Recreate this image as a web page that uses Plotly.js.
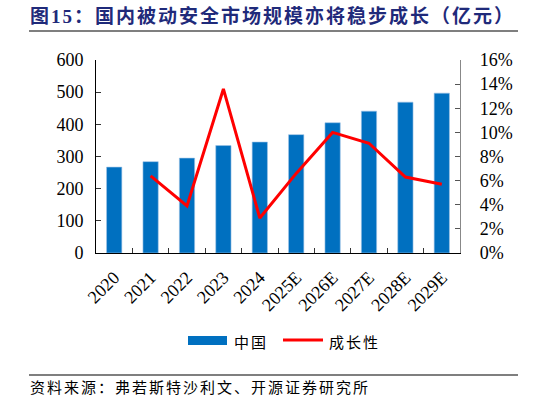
<!DOCTYPE html>
<html>
<head>
<meta charset="utf-8">
<script src="https://cdn.plot.ly/plotly-3.0.1.min.js"></script>
<style>
html,body{margin:0;padding:0;background:#fff;}
#chart{width:546px;height:405px;}
.annotation-text{letter-spacing:2px;}
</style>
</head>
<body>
<div id="chart"></div>
<script>
const categories = ['2020','2021','2022','2023','2024','2025E','2026E','2027E','2028E','2029E'];
const marketSize = [267, 284, 295, 334, 345, 368, 405, 441, 469, 497];
const growthRate = [null, 0.064, 0.039, 0.136, 0.029, 0.066, 0.100, 0.091, 0.063, 0.057];
const leftTicks = [0, 100, 200, 300, 400, 500, 600];
const rightTicks = [0, 0.02, 0.04, 0.06, 0.08, 0.10, 0.12, 0.14, 0.16];
const rightTickLabels = ['0%','2%','4%','6%','8%','10%','12%','14%','16%'];

const serif = "'Liberation Serif', 'Times New Roman', serif";
const cjk = "'Liberation Serif', 'Noto Sans CJK SC', sans-serif";
const cjkSans = "'Noto Sans CJK SC', sans-serif";

const W = 546, H = 405, L = 96, R = 86, T = 60, B = 152;
const pw = W - L - R, ph = H - T - B;
const px = x => (x - L) / pw;
const py = y => (H - B - y) / ph;

const traces = [
  {
    type: 'bar', x: categories, y: marketSize, name: '中国',
    marker: {color: '#0070C0', line: {color: '#9DC3E6', width: 0.6}},
    width: 0.42, showlegend: false, hoverinfo: 'skip'
  },
  {
    type: 'scatter', mode: 'lines', x: categories, y: growthRate, name: '成长性',
    yaxis: 'y2', line: {color: '#FF0000', width: 3}, connectgaps: false,
    showlegend: false, hoverinfo: 'skip'
  }
];

const layout = {
  width: W, height: H,
  margin: {l: L, r: R, t: T, b: B},
  paper_bgcolor: '#fff', plot_bgcolor: '#fff',
  showlegend: false,
  xaxis: {
    type: 'category', showgrid: false, zeroline: false,
    showline: true, linecolor: '#000', linewidth: 1,
    ticks: 'inside', ticklen: 5, tickcolor: '#333', tickson: 'boundaries',
    tickangle: -45, tickfont: {family: serif, size: 18, color: '#000'},
    ticklabelstandoff: 6,
    range: [-0.5, 9.5]
  },
  yaxis: {
    range: [0, 600], tickvals: leftTicks, ticktext: leftTicks.map(String),
    showgrid: false, zeroline: false, showline: true, linecolor: '#000', linewidth: 1,
    ticks: 'inside', ticklen: 5, tickcolor: '#333',
    tickfont: {family: serif, size: 18, color: '#000'}, ticklabelstandoff: 8
  },
  yaxis2: {
    overlaying: 'y', side: 'right', range: [0, 0.16],
    tickvals: rightTicks, ticktext: rightTickLabels,
    showgrid: false, zeroline: false, showline: true, linecolor: '#888', linewidth: 1.2,
    ticks: 'inside', ticklen: 5, tickcolor: '#555',
    tickfont: {family: serif, size: 18, color: '#000'}, ticklabelstandoff: 15
  },
  shapes: [
    {type: 'line', xref: 'paper', yref: 'paper', x0: px(29), x1: px(518), y0: py(31), y1: py(31), line: {color: '#000', width: 1.2}},
    {type: 'line', xref: 'paper', yref: 'paper', x0: px(29), x1: px(518), y0: py(375), y1: py(375), line: {color: '#000', width: 1.2}},
    {type: 'rect', xref: 'paper', yref: 'paper', x0: px(188), x1: px(227), y0: py(336), y1: py(345), fillcolor: '#0070C0', line: {width: 0}},
    {type: 'line', xref: 'paper', yref: 'paper', x0: px(283), x1: px(323), y0: py(340), y1: py(340), line: {color: '#FF0000', width: 3}}
  ],
  annotations: [
    {xref: 'paper', yref: 'paper', x: px(28), y: py(16), xanchor: 'left', yanchor: 'middle', showarrow: false,
     text: '<b>图15：国内被动安全市场规模亦将稳步成长（亿元）</b>',
     font: {family: cjk, size: 19, color: '#1F2A7A'}},
    {xref: 'paper', yref: 'paper', x: px(232), y: py(341), xanchor: 'left', yanchor: 'middle', showarrow: false,
     text: '中国', font: {family: cjkSans, size: 15, color: '#000'}},
    {xref: 'paper', yref: 'paper', x: px(327), y: py(341), xanchor: 'left', yanchor: 'middle', showarrow: false,
     text: '成长性', font: {family: cjkSans, size: 15, color: '#000'}},
    {xref: 'paper', yref: 'paper', x: px(28), y: py(386), xanchor: 'left', yanchor: 'middle', showarrow: false,
     text: '资料来源：弗若斯特沙利文、开源证券研究所', font: {family: cjkSans, size: 15, color: '#000'}}
  ]
};

Plotly.newPlot('chart', traces, layout, {staticPlot: true, displayModeBar: false});
</script>
</body>
</html>
